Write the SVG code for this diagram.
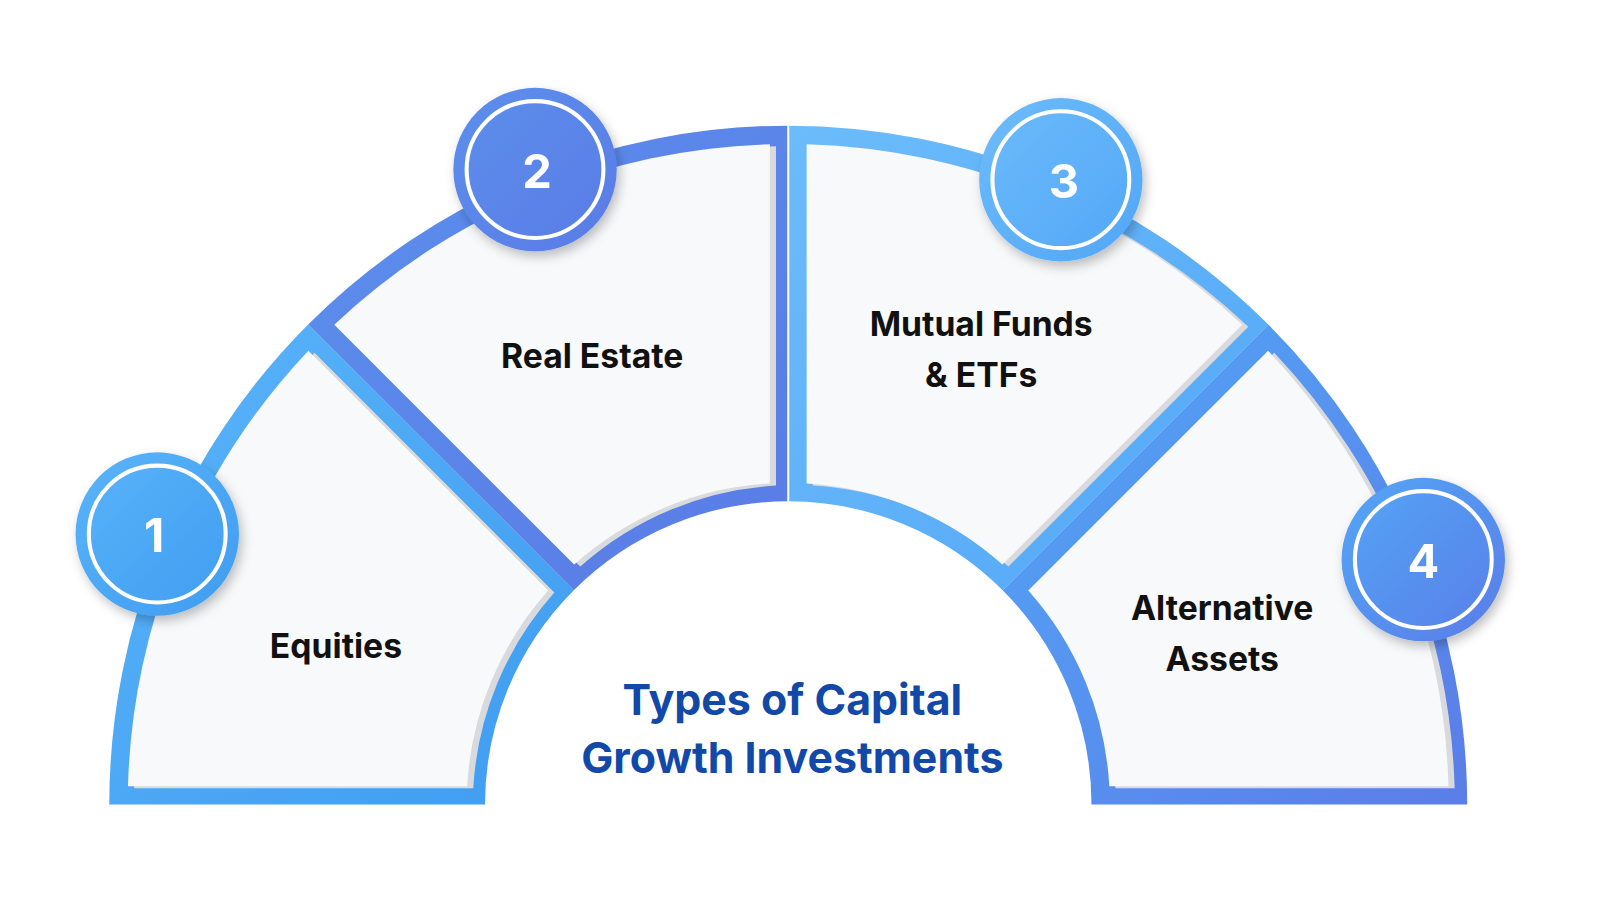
<svg xmlns="http://www.w3.org/2000/svg" width="1600" height="900" viewBox="0 0 1600 900">
<defs>
<linearGradient id="gA" x1="0" y1="0" x2="1" y2="1"><stop offset="0" stop-color="#5ab4fa"/><stop offset="1" stop-color="#3f9cf0"/></linearGradient>
<linearGradient id="gB" x1="0" y1="0" x2="1" y2="1"><stop offset="0" stop-color="#5b8fec"/><stop offset="1" stop-color="#5a7be6"/></linearGradient>
<linearGradient id="gC" x1="0" y1="0" x2="1" y2="1"><stop offset="0" stop-color="#6cbcfb"/><stop offset="1" stop-color="#52a6f6"/></linearGradient>
<linearGradient id="gD" x1="0" y1="0" x2="1" y2="1"><stop offset="0" stop-color="#52a6f6"/><stop offset="1" stop-color="#5b7de8"/></linearGradient>
<filter id="sh" x="-30%" y="-30%" width="160%" height="160%"><feDropShadow dx="3" dy="5" stdDeviation="5" flood-color="#000" flood-opacity="0.25"/></filter>
</defs>
<style>
.fill{fill:#f8f9fb}
.shade{fill:#d9dadd}
.lbl{font-family:Inter,"Liberation Sans",sans-serif;font-weight:700;font-size:33px;fill:#111;text-anchor:middle}
.ttl{font-family:Inter,"Liberation Sans",sans-serif;font-weight:700;font-size:42px;fill:#1248a8;text-anchor:middle}
.num{font-family:Inter,"Liberation Sans",sans-serif;font-weight:700;font-size:46px;fill:#fff;text-anchor:middle}
.ring{fill:none;stroke:#fff;stroke-width:4}
</style>
<rect width="1600" height="900" fill="#fff"/>
<g transform="translate(-1,-2) scale(1.021)">
<g id="seg1">
<path d="M108,790 A665 665 0 0 1 302.8,319.8 L563,580 A297 297 0 0 0 476,790 Z" fill="url(#gA)"/>
<path class="shade" d="M126.3,772 A647 647 0 0 1 303,345.4 L537.9,580.3 A315 315 0 0 0 458.5,772 Z" transform="translate(6,2)"/>
<path class="fill" d="M126.3,772 A647 647 0 0 1 303,345.4 L537.9,580.3 A315 315 0 0 0 458.5,772 Z"/>
<text class="lbl" x="330" y="646">Equities</text>
</g>
<g id="seg2">
<path d="M302.8,319.8 A665 665 0 0 1 773,125 L773,493 A297 297 0 0 0 563,580 Z" fill="url(#gB)"/>
<path class="shade" d="M328.4,320 A647 647 0 0 1 755,143.25 L755,475.5 A315 315 0 0 0 563.3,554.9 Z" transform="translate(6,2)"/>
<path class="fill" d="M328.4,320 A647 647 0 0 1 755,143.25 L755,475.5 A315 315 0 0 0 563.3,554.9 Z"/>
<text class="lbl" x="581" y="362">Real Estate</text>
</g>
<g id="seg3">
<path d="M773,125 A665 665 0 0 1 1243.2,319.8 L983,580 A297 297 0 0 0 773,493 Z" fill="url(#gC)"/>
<path class="shade" d="M791,143.25 A647 647 0 0 1 1217.6,320 L982.7,554.9 A315 315 0 0 0 791,475.5 Z" transform="translate(6,2)"/>
<path class="fill" d="M791,143.25 A647 647 0 0 1 1217.6,320 L982.7,554.9 A315 315 0 0 0 791,475.5 Z"/>
<text class="lbl" x="962" y="331">Mutual Funds</text>
<text class="lbl" x="962" y="381">&amp; ETFs</text>
</g>
<g id="seg4">
<path d="M1243.2,319.8 A665 665 0 0 1 1438,790 L1070,790 A297 297 0 0 0 983,580 Z" fill="url(#gD)"/>
<path class="shade" d="M1243,345.4 A647 647 0 0 1 1419.7,772 L1087.5,772 A315 315 0 0 0 1008.1,580.3 Z" transform="translate(6,2)"/>
<path class="fill" d="M1243,345.4 A647 647 0 0 1 1419.7,772 L1087.5,772 A315 315 0 0 0 1008.1,580.3 Z"/>
<text class="lbl" x="1198" y="609">Alternative</text>
<text class="lbl" x="1198" y="659">Assets</text>
</g>
<line x1="773" y1="125" x2="773" y2="493" stroke="#fff" stroke-width="2"/>
<g id="title">
<text class="ttl" x="777" y="702">Types of Capital</text>
<text class="ttl" x="777" y="759">Growth Investments</text>
</g>
<g id="badge1" filter="url(#sh)"><circle cx="155" cy="525" r="80" fill="url(#gA)"/><circle class="ring" cx="155" cy="525" r="67"/><text class="num" x="152" y="543">1</text></g>
<g id="badge2" filter="url(#sh)"><circle cx="525" cy="168" r="80" fill="url(#gB)"/><circle class="ring" cx="525" cy="168" r="67"/><text class="num" x="527" y="186">2</text></g>
<g id="badge3" filter="url(#sh)"><circle cx="1040" cy="178" r="80" fill="url(#gC)"/><circle class="ring" cx="1040" cy="178" r="67"/><text class="num" x="1043" y="196">3</text></g>
<g id="badge4" filter="url(#sh)"><circle cx="1395" cy="550" r="80" fill="url(#gD)"/><circle class="ring" cx="1395" cy="550" r="67"/><text class="num" x="1395" y="568">4</text></g>
</g>
</svg>
